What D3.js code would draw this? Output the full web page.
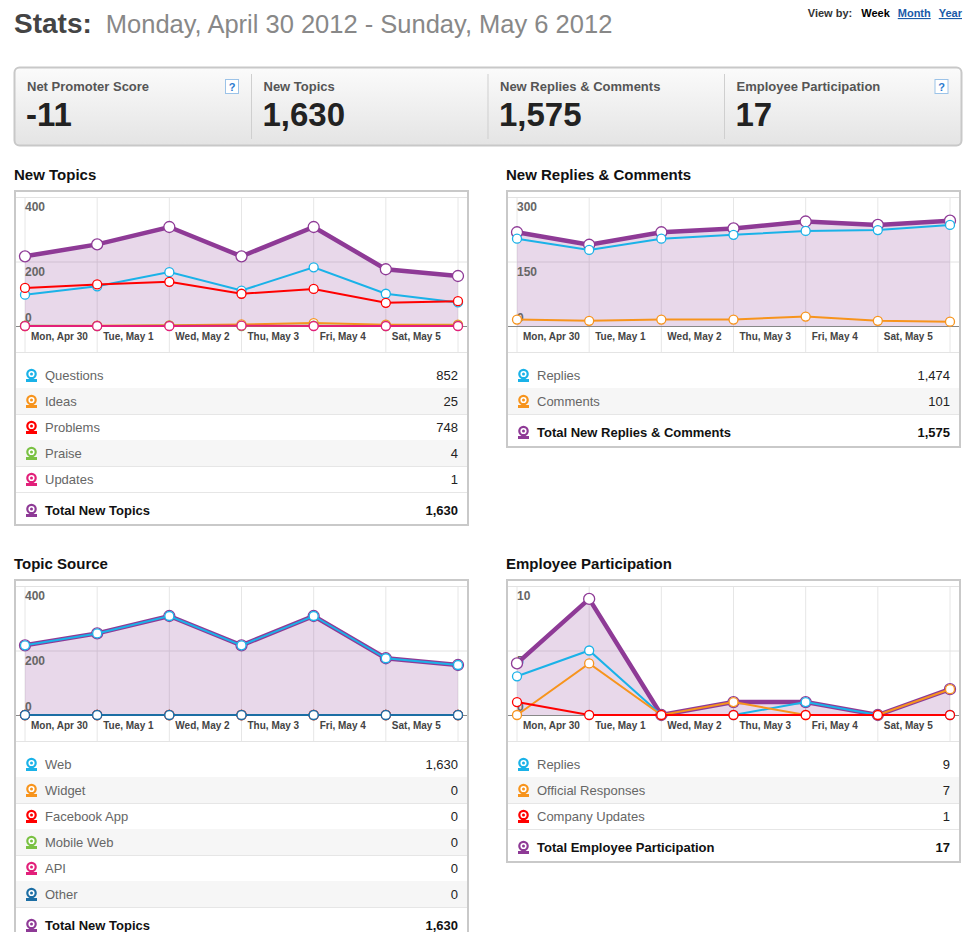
<!DOCTYPE html>
<html>
<head>
<meta charset="utf-8">
<script src="https://cdn.jsdelivr.net/npm/d3@7"></script>
<style>
  body { margin: 0; background: #fff; }
  text { font-family: "Liberation Sans", Arial, sans-serif; }
</style>
</head>
<body>
<div id="page"></div>
<script>
var days = ["Mon, Apr 30", "Tue, May 1", "Wed, May 2", "Thu, May 3", "Fri, May 4", "Sat, May 5", "Sun, May 6"];

var summaryLabels = ["Net Promoter Score", "New Topics", "New Replies & Comments", "Employee Participation"];
var summaryValues = ["-11", "1,630", "1,575", "17"];

// New Topics
var questions = [97, 123, 167, 110, 182, 100, 73];
var ideas = [0, 1, 2, 5, 9, 4, 4];
var problems = [118, 129, 137, 100, 115, 72, 77];
var praise = [1, 0, 1, 0, 1, 0, 1];
var updates = [0, 0, 0, 1, 0, 0, 0];
var topicsTotal = [216, 253, 307, 216, 307, 176, 155];

// New Replies & Comments
var replies = [203, 177, 203, 212, 221, 223, 235];
var comments = [15, 12, 15, 15, 22, 12, 10];
var repliesTotal = [218, 189, 218, 227, 243, 235, 245];

// Topic Source
var web = [216, 253, 307, 216, 307, 176, 155];
var widget = [0, 0, 0, 0, 0, 0, 0];
var facebook = [0, 0, 0, 0, 0, 0, 0];
var mobileWeb = [0, 0, 0, 0, 0, 0, 0];
var api = [0, 0, 0, 0, 0, 0, 0];
var other = [0, 0, 0, 0, 0, 0, 0];

// Employee Participation
var empReplies = [3, 5, 0, 0, 1, 0, 0];
var empOfficial = [0, 4, 0, 1, 0, 0, 2];
var empCompany = [1, 0, 0, 0, 0, 0, 0];
var empTotal = [4, 9, 0, 1, 1, 0, 2];

var C = { blue: "#1ab2e8", orange: "#f7941d", red: "#ff0000", green: "#7ac143", pink: "#e2207a", purple: "#8e3a96", navy: "#1c6ea4" };

var W = 966, H = 932;
var svg = d3.select("#page").append("svg").attr("width", W).attr("height", H);

// header
var hd = svg.append("text").attr("x", 14).attr("y", 33);
hd.append("tspan").attr("font-size", 28).attr("font-weight", "bold").attr("fill", "#444").text("Stats:");
hd.append("tspan").attr("font-size", 25.5).attr("fill", "#888").attr("dx", 14).text("Monday, April 30 2012 - Sunday, May 6 2012");

var vb = svg.append("text").attr("x", 962).attr("y", 17).attr("text-anchor", "end").attr("font-size", 11).attr("font-weight", "bold");
vb.append("tspan").attr("fill", "#333").text("View by:");
vb.append("tspan").attr("fill", "#000").attr("dx", 9).text("Week");
vb.append("tspan").attr("fill", "#1a5aa8").attr("dx", 8).attr("text-decoration", "underline").text("Month");
vb.append("tspan").attr("fill", "#1a5aa8").attr("dx", 8).attr("text-decoration", "underline").text("Year");

// summary bar
var grad = svg.append("defs").append("linearGradient").attr("id", "sg").attr("x1", 0).attr("x2", 0).attr("y1", 0).attr("y2", 1);
grad.append("stop").attr("offset", "0%").attr("stop-color", "#fbfbfb");
grad.append("stop").attr("offset", "100%").attr("stop-color", "#e4e4e4");
svg.append("rect").attr("x", 14.5).attr("y", 67.5).attr("width", 947).attr("height", 78).attr("rx", 5)
  .attr("fill", "url(#sg)").attr("stroke", "#c8c8c8").attr("stroke-width", 2);
var sx = d3.scaleBand().domain(d3.range(4)).range([14, 960]);
summaryLabels.forEach(function(l, i) {
  var x0 = sx(i);
  if (i > 0) svg.append("line").attr("x1", x0 + 1).attr("x2", x0 + 1).attr("y1", 74).attr("y2", 139).attr("stroke", "#cfcfcf");
  svg.append("text").attr("x", x0 + 13).attr("y", 91).attr("font-size", 13).attr("font-weight", "bold").attr("fill", "#555").text(l);
  svg.append("text").attr("x", x0 + 12).attr("y", 126).attr("font-size", 33).attr("font-weight", "bold").attr("fill", "#222").text(summaryValues[i]);
  if (i == 0 || i == 3) {
    var qx = x0 + sx.bandwidth() - 25;
    svg.append("rect").attr("x", qx).attr("y", 79.5).attr("width", 13).attr("height", 14).attr("fill", "#fff").attr("stroke", "#9cc3e8");
    svg.append("text").attr("x", qx + 6.5).attr("y", 91).attr("text-anchor", "middle").attr("font-size", 11).attr("font-weight", "bold").attr("fill", "#2a7ad0").text("?");
  }
});

function icon(g, x, y, color) {
  g.append("rect").attr("x", x - 5).attr("y", y + 4).attr("width", 11).attr("height", 3).attr("fill", color);
  g.append("circle").attr("cx", x + 0.5).attr("cy", y - 1).attr("r", 4.2).attr("fill", "#fff").attr("stroke", color).attr("stroke-width", 2.2);
  g.append("circle").attr("cx", x + 0.5).attr("cy", y - 1).attr("r", 1.5).attr("fill", color);
}

function drawPanel(cfg) {
  var g = svg.append("g");
  var left = cfg.x, right = cfg.x + 455, top = cfg.y;
  g.append("text").attr("x", left).attr("y", top - 10).attr("font-size", 15).attr("font-weight", "bold").attr("fill", "#111").text(cfg.title);

  var rowStart = top + 185, rowH = 26;
  var totalY = rowStart + (cfg.series.length - 1) * rowH + 31;
  g.append("rect").attr("x", left + 1).attr("y", top + 1).attr("width", 453).attr("height", totalY + 14 - top)
    .attr("fill", "#fff").attr("stroke", "#c9c9c9").attr("stroke-width", 2);

  var x = d3.scalePoint().domain(days).range([left + 11, right - 11]);
  var y = d3.scaleLinear().domain([0, cfg.max]).range([top + 136, top + 7]);

  // grid
  g.append("g").selectAll("line").data(days).enter().append("line")
    .attr("x1", function(d) { return x(d); }).attr("x2", function(d) { return x(d); })
    .attr("y1", top + 7).attr("y2", top + 162).attr("stroke", "#e6e6e6");
  g.append("g").selectAll("line").data(cfg.ticks).enter().append("line")
    .attr("x1", left + 2).attr("x2", right - 2)
    .attr("y1", function(d) { return y(d) + 0.5; }).attr("y2", function(d) { return y(d) + 0.5; })
    .attr("stroke", function(d) { return d == 0 ? "#888" : "#e2e2e2"; });

  var total = cfg.total;
  var area = d3.area().x(function(d, i) { return x(days[i]); }).y0(y(0)).y1(function(d) { return y(d); });
  g.append("path").datum(total.values).attr("d", area).attr("fill", "#8e3a96").attr("fill-opacity", 0.2);

  // tick labels
  g.append("g").selectAll("text").data(cfg.ticks).enter().append("text")
    .attr("x", left + 11).attr("y", function(d) { return d == 0 ? y(d) - 4 : y(d) + 14; })
    .attr("font-size", 12).attr("font-weight", "bold").attr("fill", "#666")
    .text(function(d) { return d; });
  g.append("g").selectAll("text").data(days.slice(0, 6)).enter().append("text")
    .attr("x", function(d) { return x(d) + 6; }).attr("y", top + 150)
    .attr("font-size", 10).attr("font-weight", "bold").attr("fill", "#444").text(function(d) { return d; });

  // total underneath, series on top in legend order
  var line = d3.line().x(function(d, i) { return x(days[i]); }).y(function(d) { return y(d); });
  var all = [total].concat(cfg.series);
  all.forEach(function(s) {
    var isT = s === total;
    g.append("path").datum(s.values).attr("d", line).attr("fill", "none").attr("stroke", s.color).attr("stroke-width", isT ? 4.5 : 2);
    g.append("g").selectAll("circle").data(s.values).enter().append("circle")
      .attr("cx", function(d, i) { return x(days[i]); }).attr("cy", function(d) { return y(d); })
      .attr("r", isT ? 5.5 : 4.5).attr("fill", "#fff").attr("stroke", s.color).attr("stroke-width", 1.3);
  });

  // legend
  g.append("line").attr("x1", left + 2).attr("x2", right - 2).attr("y1", top + 162.5).attr("y2", top + 162.5).attr("stroke", "#e4e4e4");
  cfg.series.forEach(function(s, i) {
    var cy = rowStart + i * rowH;
    if (i % 2 == 1) g.append("rect").attr("x", left + 2).attr("y", cy - 13).attr("width", 451).attr("height", rowH).attr("fill", "#f6f6f6");
    g.append("line").attr("x1", left + 2).attr("x2", right - 2).attr("y1", cy + 13.5).attr("y2", cy + 13.5).attr("stroke", "#e6e6e6");
    icon(g, left + 17, cy, s.color);
    g.append("text").attr("x", left + 31).attr("y", cy + 5).attr("font-size", 13).attr("fill", "#666").text(s.name);
    g.append("text").attr("x", right - 11).attr("y", cy + 5).attr("text-anchor", "end").attr("font-size", 13).attr("fill", "#222").text(d3.format(",")(d3.sum(s.values)));
  });
  icon(g, left + 17, totalY, total.color);
  g.append("text").attr("x", left + 31).attr("y", totalY + 5).attr("font-size", 13).attr("font-weight", "bold").attr("fill", "#111").text(total.name);
  g.append("text").attr("x", right - 11).attr("y", totalY + 5).attr("text-anchor", "end").attr("font-size", 13).attr("font-weight", "bold").attr("fill", "#111").text(d3.format(",")(d3.sum(total.values)));
}

drawPanel({ title: "New Topics", x: 14, y: 190, max: 400, ticks: [400, 200, 0],
  series: [
    { name: "Questions", color: C.blue, values: questions },
    { name: "Ideas", color: C.orange, values: ideas },
    { name: "Problems", color: C.red, values: problems },
    { name: "Praise", color: C.green, values: praise },
    { name: "Updates", color: C.pink, values: updates }],
  total: { name: "Total New Topics", color: C.purple, values: topicsTotal } });

drawPanel({ title: "New Replies & Comments", x: 506, y: 190, max: 300, ticks: [300, 150, 0],
  series: [
    { name: "Replies", color: C.blue, values: replies },
    { name: "Comments", color: C.orange, values: comments }],
  total: { name: "Total New Replies & Comments", color: C.purple, values: repliesTotal } });

drawPanel({ title: "Topic Source", x: 14, y: 579, max: 400, ticks: [400, 200, 0],
  series: [
    { name: "Web", color: C.blue, values: web },
    { name: "Widget", color: C.orange, values: widget },
    { name: "Facebook App", color: C.red, values: facebook },
    { name: "Mobile Web", color: C.green, values: mobileWeb },
    { name: "API", color: C.pink, values: api },
    { name: "Other", color: C.navy, values: other }],
  total: { name: "Total New Topics", color: C.purple, values: topicsTotal } });

drawPanel({ title: "Employee Participation", x: 506, y: 579, max: 10, ticks: [10, 5, 0],
  series: [
    { name: "Replies", color: C.blue, values: empReplies },
    { name: "Official Responses", color: C.orange, values: empOfficial },
    { name: "Company Updates", color: C.red, values: empCompany }],
  total: { name: "Total Employee Participation", color: C.purple, values: empTotal } });
</script>
</body>
</html>
